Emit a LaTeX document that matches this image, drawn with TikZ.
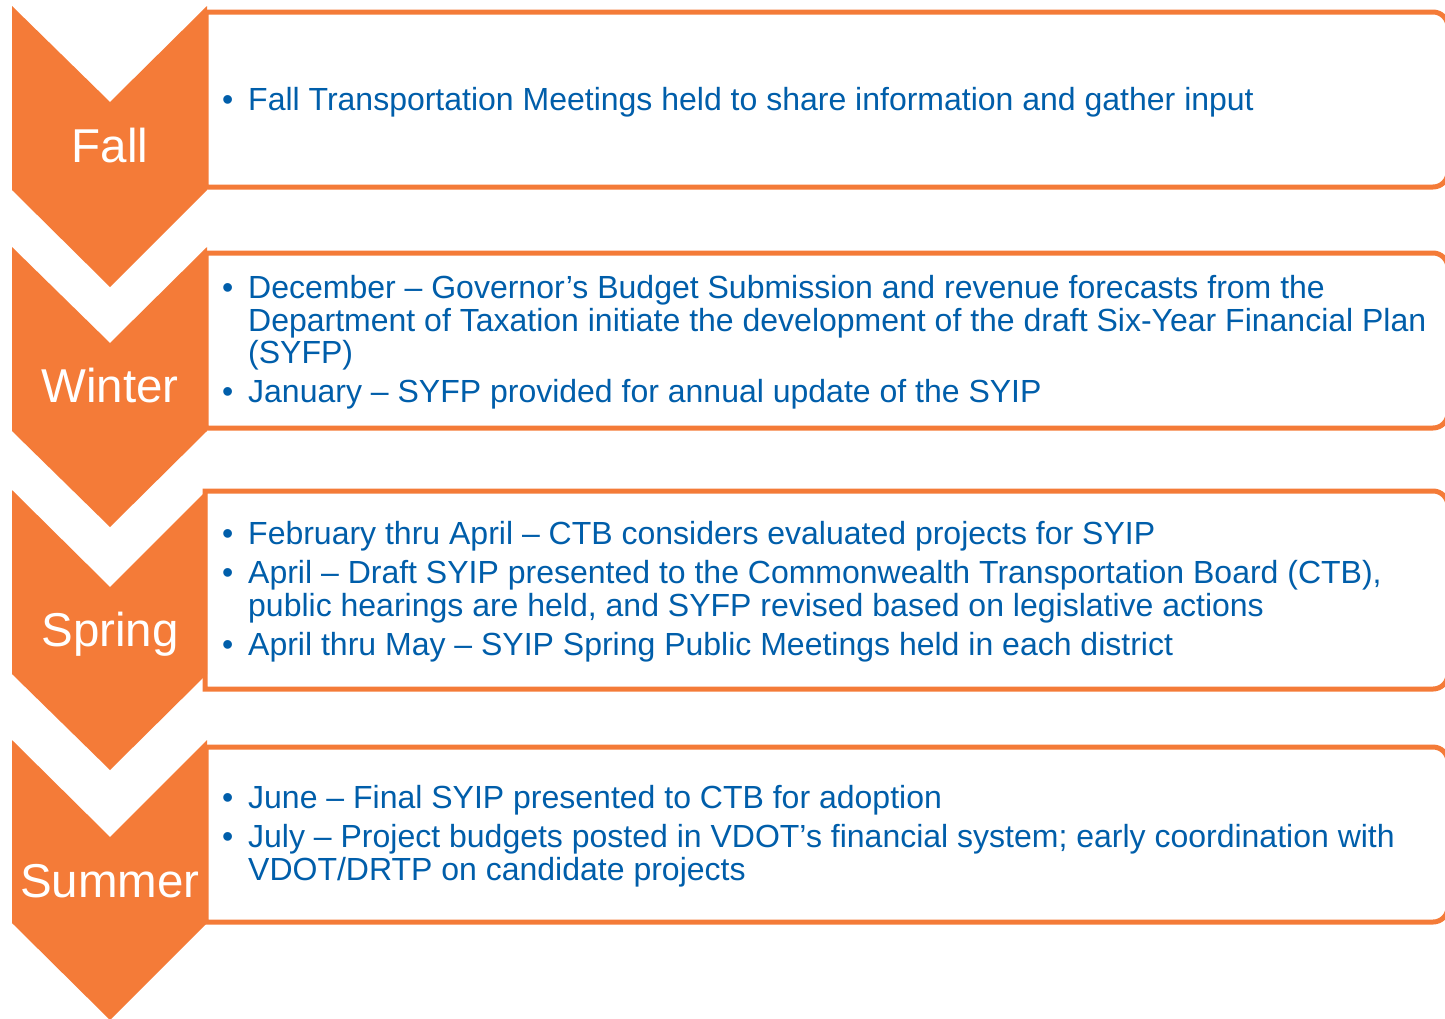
\documentclass[tikz,border=0pt]{standalone}
\usepackage{fontspec}
\setmainfont{Liberation Sans}
\definecolor{vorange}{RGB}{244,123,56}
\definecolor{vblue}{RGB}{0,94,170}
\begin{document}
\begin{tikzpicture}[x=1pt,y=-1pt,
  chev/.style={fill=vorange,draw=none},
  framebox/.style={draw=vorange,line width=5pt,fill=white},
  season/.style={text=white,font=\fontsize{47.5}{50}\selectfont,inner sep=0pt,anchor=base},
  bline/.style={text=vblue,font=\fontsize{32}{33}\selectfont,inner sep=0pt,anchor=base west},
  bdot/.style={text=vblue,font=\fontsize{32}{33}\selectfont,inner sep=0pt,anchor=base west}]
\useasboundingbox (0,0) rectangle (1445,1018);
\begin{scope}
\clip (0,0) rectangle (1445,1018);
% frames (square left corners, rounded right corners)
\draw[framebox] (206,187) -- (206,12) [rounded corners=15pt] -- (1448,12) -- (1448,187) [sharp corners] -- cycle;
\draw[framebox] (206,428) -- (206,253) [rounded corners=15pt] -- (1448,253) -- (1448,428) [sharp corners] -- cycle;
\draw[framebox] (205,689) -- (205,491) [rounded corners=15pt] -- (1448,491) -- (1448,689) [sharp corners] -- cycle;
\draw[framebox] (206,922) -- (206,747) [rounded corners=15pt] -- (1448,747) -- (1448,922) [sharp corners] -- cycle;
% chevrons
\fill[chev] (12,6) -- (110,102) -- (207,6) -- (207,190) -- (110,287) -- (12,190) -- cycle;
\fill[chev] (12,247) -- (110,343) -- (207,247) -- (207,431) -- (110,527) -- (12,431) -- cycle;
\fill[chev] (12,490) -- (110,587) -- (207,490) -- (207,674) -- (110,770) -- (12,674) -- cycle;
\fill[chev] (12,740) -- (110,837) -- (207,740) -- (207,923) -- (110,1020) -- (12,923) -- cycle;
\end{scope}
% season labels
\node[season] (fall) at (110,162) {Fall};
\node[season] (winter) at (110,402) {Winter};
\node[season] (spring) at (110,646) {Spring};
\node[season] (summer) at (110,897) {Summer};
% Fall
\node[bdot] (d11) at (222,110) {•};
\node[bline] (t11) at (248,110) {Fall Transportation Meetings held to share information and gather input};
% Winter
\node[bdot] (d21) at (222,298) {•};
\node[bline] (t21) at (248,298) {December – Governor’s Budget Submission and revenue forecasts from the};
\node[bline] (t22) at (248,331) {Department of Taxation initiate the development of the draft Six-Year Financial Plan};
\node[bline] (t23) at (248,363) {(SYFP)};
\node[bdot] (d22) at (222,402) {•};
\node[bline] (t24) at (248,402) {January – SYFP provided for annual update of the SYIP};
% Spring
\node[bdot] (d31) at (222,544) {•};
\node[bline] (t31) at (248,544) {February thru April – CTB considers evaluated projects for SYIP};
\node[bdot] (d32) at (222,583) {•};
\node[bline] (t32) at (248,583) {April – Draft SYIP presented to the Commonwealth Transportation Board (CTB),};
\node[bline] (t33) at (248,616) {public hearings are held, and SYFP revised based on legislative actions};
\node[bdot] (d33) at (222,655) {•};
\node[bline] (t34) at (248,655) {April thru May – SYIP Spring Public Meetings held in each district};
% Summer
\node[bdot] (d41) at (222,808) {•};
\node[bline] (t41) at (248,808) {June – Final SYIP presented to CTB for adoption};
\node[bdot] (d42) at (222,847) {•};
\node[bline] (t42) at (248,847) {July – Project budgets posted in VDOT’s financial system; early coordination with};
\node[bline] (t43) at (248,880) {VDOT/DRTP on candidate projects};
\end{tikzpicture}
\end{document}
